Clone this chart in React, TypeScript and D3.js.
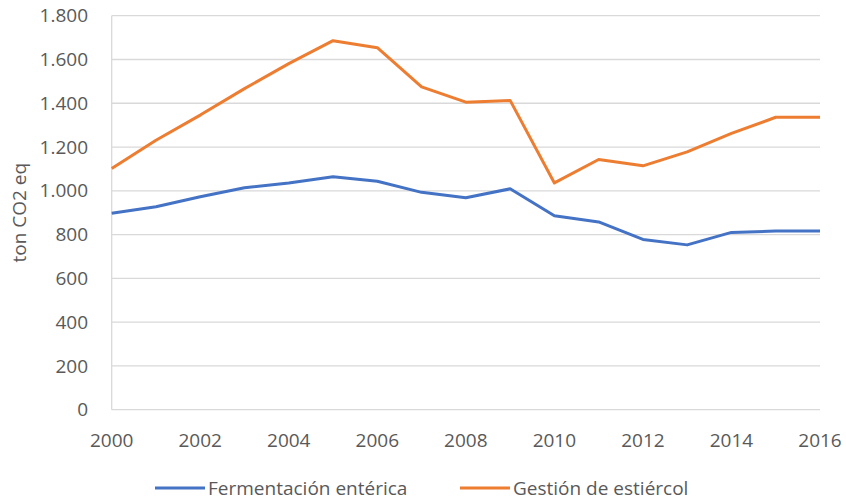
import React from "react";
import * as d3 from "d3";

const years = [2000, 2001, 2002, 2003, 2004, 2005, 2006, 2007, 2008, 2009, 2010, 2011, 2012, 2013, 2014, 2015, 2016];
const fermentacion = [897, 927, 973, 1014, 1036, 1064, 1044, 993, 968, 1009, 886, 858, 778, 753, 810, 816, 816];
const gestion = [1102, 1231, 1346, 1467, 1581, 1686, 1654, 1475, 1405, 1413, 1036, 1143, 1114, 1178, 1262, 1336, 1336];
const yTicks = [0, 200, 400, 600, 800, 1000, 1200, 1400, 1600, 1800];
const xTicks = [2000, 2002, 2004, 2006, 2008, 2010, 2012, 2014, 2016];
const seriesNames = ["Fermentación entérica", "Gestión de estiércol"];
const colors = ["#4472c4", "#ed7d31"];

const W = 846, H = 501;
const FONT = "'Open Sans', sans-serif";
const FS = 19;

export default function App() {
  const x = d3.scaleLinear().domain([2000, 2016]).range([111.7, 820]);
  const y = d3.scaleLinear().domain([0, 1800]).range([409.7, 15.7]);
  const fmt = (v: number) => d3.format(",")(v).replace(/,/g, ".");
  const line = d3.line<number>().x((_, i) => x(years[i])).y((d) => y(d));
  const data = [fermentacion, gestion];
  const legendX = [155, 460];
  return (
    <svg width={W} height={H} style={{ position: "absolute", left: 0, top: 0 }} fontFamily={FONT}>
      <rect width={W} height={H} fill="#fff" />
      {yTicks.map((t) => (
        <line key={t} x1={x(2000)} x2={x(2016)} y1={y(t)} y2={y(t)} stroke="#d9d9d9" strokeWidth={1.3} />
      ))}
      <line x1={x(2000)} x2={x(2000)} y1={y(1800)} y2={y(0)} stroke="#d9d9d9" strokeWidth={1.3} />
      {yTicks.map((t) => (
        <text key={t} x={88} y={y(t)} dy="0.35em" textAnchor="end" fontSize={FS} fill="#595959">
          {fmt(t)}
        </text>
      ))}
      {xTicks.map((t) => (
        <text key={t} x={x(t)} y={440} dy="0.35em" textAnchor="middle" fontSize={FS} fill="#595959">
          {t}
        </text>
      ))}
      <text transform={`translate(19,${y(900)}) rotate(-90)`} textAnchor="middle" fontSize={FS} fill="#595959" dy="0.35em">
        ton CO2 eq
      </text>
      {data.map((d, i) => (
        <path key={i} d={line(d) || ""} fill="none" stroke={colors[i]} strokeWidth={3} strokeLinejoin="round" />
      ))}
      {seriesNames.map((n, i) => (
        <g key={n}>
          <line x1={legendX[i]} x2={legendX[i] + 50} y1={488} y2={488} stroke={colors[i]} strokeWidth={3} />
          <text x={legendX[i] + 53} y={488} dy="0.35em" fontSize={FS} fill="#595959">
            {n}
          </text>
        </g>
      ))}
    </svg>
  );
}
